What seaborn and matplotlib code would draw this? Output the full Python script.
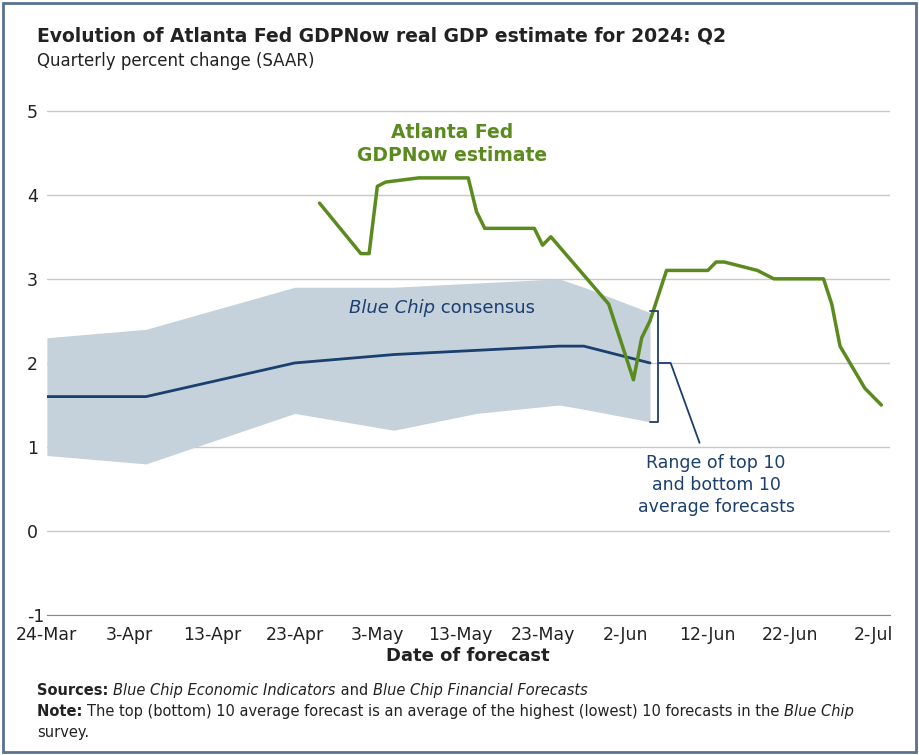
import matplotlib
matplotlib.use('Agg')
import matplotlib.pyplot as plt
import matplotlib.dates as mdates
import numpy as np
import pandas as pd
import seaborn as sns

# GDPNow estimate
gdp_dates = pd.to_datetime([
    '2024-04-26', '2024-05-01', '2024-05-02', '2024-05-03', '2024-05-04', '2024-05-08',
    '2024-05-14', '2024-05-15', '2024-05-16', '2024-05-22', '2024-05-23', '2024-05-24',
    '2024-05-31', '2024-06-03', '2024-06-04', '2024-06-05', '2024-06-07', '2024-06-12',
    '2024-06-13', '2024-06-14', '2024-06-18', '2024-06-20', '2024-06-26', '2024-06-27',
    '2024-06-28', '2024-07-01', '2024-07-03'])
gdp_values = [3.9, 3.3, 3.3, 4.1, 4.15, 4.2, 4.2, 3.8, 3.6, 3.6, 3.4, 3.5,
              2.7, 1.8, 2.3, 2.5, 3.1, 3.1, 3.2, 3.2, 3.1, 3.0, 3.0, 2.7,
              2.2, 1.7, 1.5]

# Blue Chip consensus and range
bc_dates = pd.to_datetime(['2024-03-24', '2024-04-05', '2024-04-14', '2024-04-23',
                           '2024-05-05', '2024-05-15', '2024-05-25', '2024-05-28',
                           '2024-06-05'])
bc_mean = [1.6, 1.6, 1.8, 2.0, 2.1, 2.15, 2.2, 2.2, 2.0]
bc_high = [2.3, 2.4, 2.65, 2.9, 2.9, 2.95, 3.0, 2.9, 2.6]
bc_low = [0.9, 0.8, 1.1, 1.4, 1.2, 1.4, 1.5, 1.45, 1.3]

green = '#5b8a1e'
navy = '#1b3f6e'
ink = '#222222'

sns.set_style('white')
plt.rcParams['font.family'] = ['DejaVu Sans']
plt.rcParams['axes.unicode_minus'] = False

fig = plt.figure(figsize=(9.19, 7.55), dpi=100)
ax = fig.add_axes([0.051, 0.185, 0.917, 0.683])

ax.fill_between(bc_dates, bc_low, bc_high, color='#c5d2dc', lw=0)
sns.lineplot(x=bc_dates, y=bc_mean, ax=ax, color=navy, lw=2)
sns.lineplot(x=gdp_dates, y=gdp_values, ax=ax, color=green, lw=2.5)

ax.set_ylim(-1, 5.13)
ax.set_xlim(pd.Timestamp('2024-03-24'), pd.Timestamp('2024-07-04'))
ax.set_yticks(range(-1, 6))
ax.yaxis.grid(True, color='#c8c8c8', lw=1)
ax.set_axisbelow(True)
for s in ['top', 'right', 'left']:
    ax.spines[s].set_visible(False)
ax.spines['bottom'].set_color('#888888')
ticks = pd.date_range('2024-03-24', '2024-07-02', freq='10D')
ax.set_xticks(ticks)
ax.xaxis.set_major_formatter(mdates.DateFormatter('%-d-%b'))
ax.tick_params(axis='x', length=5, color='#888888', labelsize=12.5, pad=3, labelcolor=ink)
ax.tick_params(axis='y', length=0, labelsize=12.5, pad=-10, labelcolor=ink)
for t in ax.get_yticklabels():
    t.set_horizontalalignment('left')
    t.set_x(-0.04)
ax.set_xlabel('Date of forecast', fontsize=13, fontweight='bold', labelpad=2, color=ink)
ax.set_ylabel('')

# bracket
bx = pd.Timestamp('2024-06-06')
ax.plot([bx - pd.Timedelta(days=1), bx, bx, bx - pd.Timedelta(days=1)],
        [2.62, 2.62, 1.3, 1.3], color=navy, lw=1.3)
ax.plot([bx, bx + pd.Timedelta(days=1.5), pd.Timestamp('2024-06-11')],
        [2.0, 2.0, 1.05], color=navy, lw=1.3)

ax.text(pd.Timestamp('2024-05-12'), 4.35, 'Atlanta Fed\nGDPNow estimate', color=green,
        fontsize=13.5, fontweight='bold', ha='center', va='bottom', linespacing=1.3)
ax.text(pd.Timestamp('2024-05-10'), 2.65, 'Blue Chip', color=navy, fontsize=13,
        style='italic', ha='right', va='center')
ax.text(pd.Timestamp('2024-05-10'), 2.65, ' consensus', color=navy, fontsize=13,
        ha='left', va='center')
ax.text(pd.Timestamp('2024-06-13'), 0.92, 'Range of top 10\nand bottom 10\naverage forecasts',
        color=navy, fontsize=12.5, ha='center', va='top', linespacing=1.3)

fig.text(0.04, 0.945, 'Evolution of Atlanta Fed GDPNow real GDP estimate for 2024: Q2',
         fontsize=13.5, fontweight='bold', color=ink)
fig.text(0.04, 0.913, 'Quarterly percent change (SAAR)', fontsize=12, color=ink)

# footnotes built from pieces (bold / italic / regular)
renderer = fig.canvas.get_renderer()
def line(y, parts):
    x = 0.04
    for txt, kw in parts:
        t = fig.text(x, y, txt, fontsize=10.5, color=ink, **kw)
        bb = t.get_window_extent(renderer)
        x += bb.width / fig.bbox.width

line(0.08, [('Sources: ', dict(fontweight='bold')),
            ('Blue Chip Economic Indicators', dict(style='italic')),
            (' and ', {}),
            ('Blue Chip Financial Forecasts', dict(style='italic'))])
line(0.051, [('Note: ', dict(fontweight='bold')),
             ('The top (bottom) 10 average forecast is an average of the highest (lowest) 10 forecasts in the ', {}),
             ('Blue Chip', dict(style='italic'))])
line(0.024, [('survey.', {})])

fig.patches.append(plt.Rectangle((0.003, 0.004), 0.994, 0.992, transform=fig.transFigure,
                                 fill=False, ec='#5a7190', lw=2))
fig.savefig('out.png', dpi=100)
